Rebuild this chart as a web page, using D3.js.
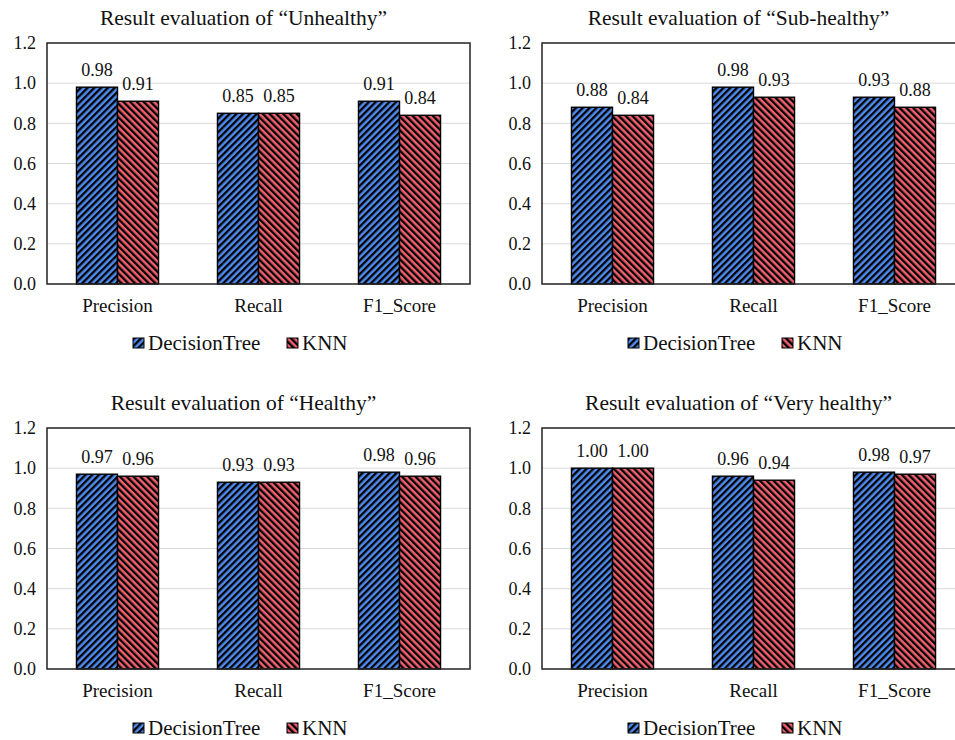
<!DOCTYPE html>
<html>
<head>
<meta charset="utf-8">
<title>Result evaluation</title>
<script src="https://d3js.org/d3.v7.min.js"></script>
<style>
    body { margin: 0; background: #fff; overflow: hidden; }
    svg text { font-family: "Liberation Serif", "DejaVu Serif", serif !important; fill: #111; }
</style>
</head>
<body>
<script>

// data
var titles = ["Result evaluation of \u201cUnhealthy\u201d", "Result evaluation of \u201cSub-healthy\u201d",
              "Result evaluation of \u201cHealthy\u201d", "Result evaluation of \u201cVery healthy\u201d"];
var metrics = ["Precision", "Recall", "F1_Score"];
var series = ["DecisionTree", "KNN"];
var decisionTree = [[0.98, 0.85, 0.91], [0.88, 0.98, 0.93], [0.97, 0.93, 0.98], [1.00, 0.96, 0.98]];
var knn = [[0.91, 0.85, 0.84], [0.84, 0.93, 0.88], [0.96, 0.93, 0.96], [1.00, 0.94, 0.97]];
var yTicks = [0, 0.2, 0.4, 0.6, 0.8, 1.0, 1.2];

var colors = { DecisionTree: "#4f8bef", KNN: "#f0606f" };
var serif = "'Liberation Serif', serif";

var width = 955, height = 740;

var svg = d3.select("body").append("svg")
    .attr("width", width)
    .attr("height", height)
    .style("overflow", "hidden")
    .attr("font-family", serif);

// hatch patterns
var defs = svg.append("defs");
series.forEach(function(s, i) {
    var p = defs.append("pattern")
        .attr("id", "hatch-" + s)
        .attr("patternUnits", "userSpaceOnUse")
        .attr("width", 4.8)
        .attr("height", 4.8)
        .attr("patternTransform", "rotate(" + (i == 0 ? 45 : -45) + ")");
    p.append("rect").attr("width", 4.8).attr("height", 4.8).attr("fill", colors[s]);
    p.append("rect").attr("width", 2.3).attr("height", 4.8).attr("fill", "#000");
});

var plotW = 423, plotH = 241;
var margin = { left: 47, top: 43 };
var origins = [[0, 0], [495, 0], [0, 385], [495, 385]];

var x0 = d3.scaleBand().domain(metrics).range([0, plotW]).paddingInner(0.418).paddingOuter(0.209);
var x1 = d3.scaleBand().domain(series).range([0, x0.bandwidth()]);
var y = d3.scaleLinear().domain([0, 1.2]).range([plotH, 0]);

titles.forEach(function(title, k) {
    var panel = svg.append("g")
        .attr("transform", "translate(" + origins[k][0] + "," + origins[k][1] + ")");

    panel.append("text")
        .attr("x", margin.left + plotW / 2 - 15)
        .attr("y", 25)
        .attr("text-anchor", "middle")
        .attr("font-size", "21.5px")
        .text(title);

    var g = panel.append("g")
        .attr("transform", "translate(" + margin.left + "," + margin.top + ")");

    // gridlines
    g.selectAll(".grid").data(yTicks.slice(1, -1)).enter().append("line")
        .attr("x1", 0).attr("x2", plotW)
        .attr("y1", function(d) { return y(d); })
        .attr("y2", function(d) { return y(d); })
        .attr("stroke", "#d9d9d9")
        .attr("stroke-width", 1);

    // y axis labels
    var yAxis = d3.axisLeft(y).tickValues(yTicks).tickFormat(d3.format(".1f")).tickSize(0).tickPadding(11);
    var ya = g.append("g").call(yAxis).attr("font-family", serif).attr("font-size", 18);
    ya.select(".domain").remove();
    ya.selectAll("text").attr("fill", "#111");

    var rows = metrics.map(function(m, i) {
        return { metric: m, values: [
            { s: "DecisionTree", v: decisionTree[k][i] },
            { s: "KNN", v: knn[k][i] }] };
    });

    var grp = g.selectAll(".grp").data(rows).enter().append("g")
        .attr("transform", function(d) { return "translate(" + x0(d.metric) + ",0)"; });

    grp.selectAll("rect").data(function(d) { return d.values; }).enter().append("rect")
        .attr("x", function(d) { return x1(d.s); })
        .attr("y", function(d) { return y(d.v); })
        .attr("width", x1.bandwidth())
        .attr("height", function(d) { return plotH - y(d.v); })
        .attr("fill", function(d) { return "url(#hatch-" + d.s + ")"; })
        .attr("stroke", "#000")
        .attr("stroke-width", 1.4);

    grp.selectAll(".lbl").data(function(d) { return d.values; }).enter().append("text")
        .attr("x", function(d) { return x1(d.s) + x1.bandwidth() / 2; })
        .attr("y", function(d) { return y(d.v) - 11; })
        .attr("text-anchor", "middle")
        .attr("font-size", "18px")
        .text(function(d) { return d.v.toFixed(2); });

    // plot frame
    g.append("rect")
        .attr("width", plotW).attr("height", plotH)
        .attr("fill", "none")
        .attr("stroke", "#222")
        .attr("stroke-width", 1.5);

    // x labels
    g.selectAll(".xl").data(metrics).enter().append("text")
        .attr("x", function(d) { return x0(d) + x0.bandwidth() / 2; })
        .attr("y", plotH + 28)
        .attr("text-anchor", "middle")
        .attr("font-size", "19px")
        .text(function(d) { return d; });

    // legend
    var lg = panel.append("g").attr("transform", "translate(133," + 338 + ")");
    var lx = [0, 154];
    series.forEach(function(s, i) {
        lg.append("rect")
            .attr("x", lx[i]).attr("y", 0)
            .attr("width", 11).attr("height", 10)
            .attr("fill", "url(#hatch-" + s + ")")
            .attr("stroke", "#000")
            .attr("stroke-width", 1);
        lg.append("text")
            .attr("x", lx[i] + 15)
            .attr("y", 12)
            .attr("font-size", "21px")
            .text(s);
    });
});

</script>
</body>
</html>
